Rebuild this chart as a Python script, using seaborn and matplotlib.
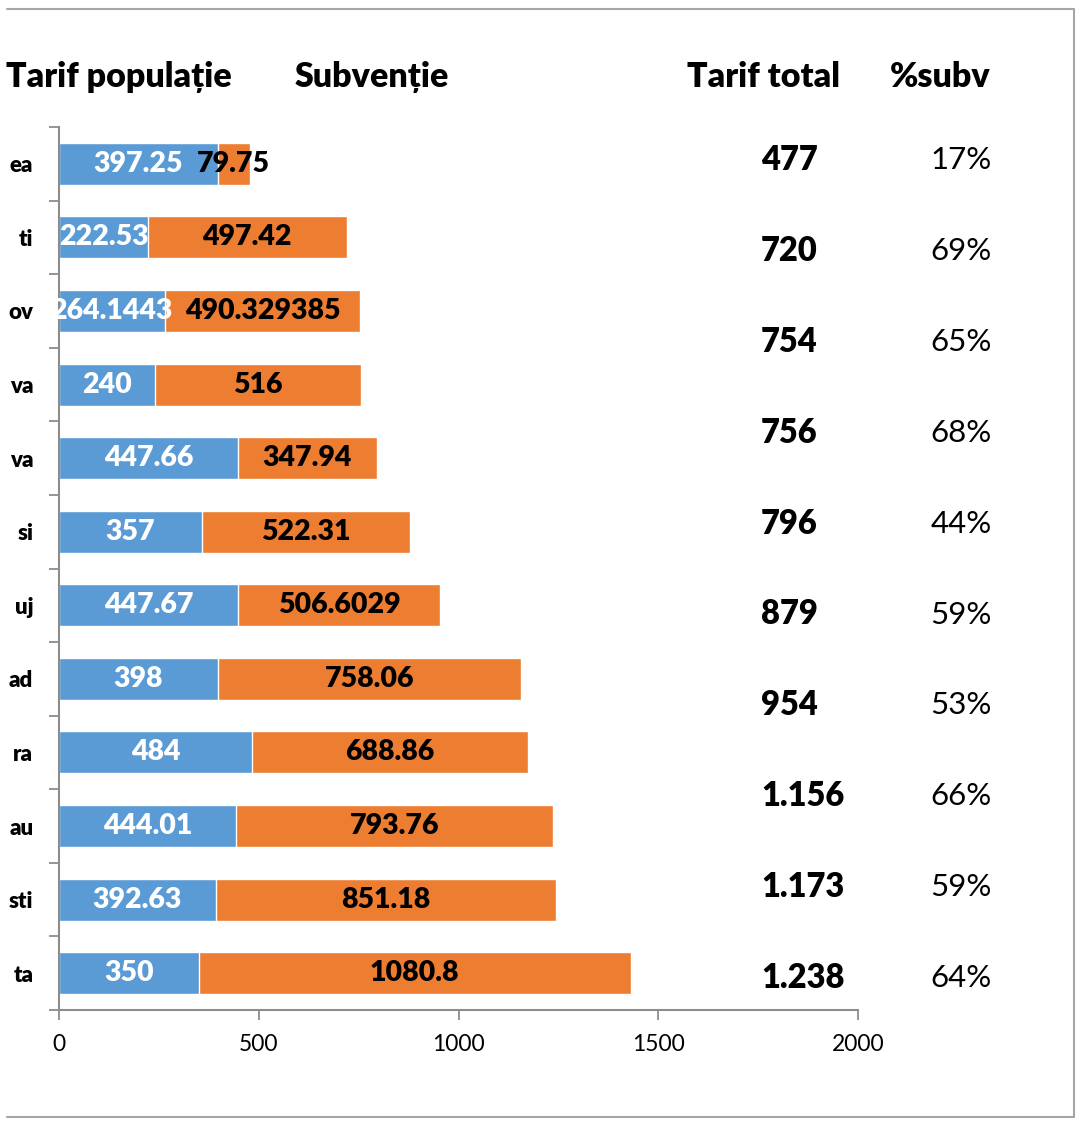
import numpy as np
import pandas as pd
import matplotlib
matplotlib.use("Agg")
from matplotlib import pyplot as plt
from matplotlib.lines import Line2D
import seaborn as sns

# data (top to bottom)
cities = ["ea", "ti", "ov", "va", "va ", "si", "uj", "ad", "ra", "au", "sti", "ta"]
tarif_populatie = [397.25, 222.53, 264.1443, 240, 447.66, 357, 447.67, 398, 484, 444.01, 392.63, 350]
subventie = [79.75, 497.42, 490.329385, 516, 347.94, 522.31, 506.6029, 758.06, 688.86, 793.76, 851.18, 1080.8]
pop_labels = ["397.25", "222.53", "264.1443", "240", "447.66", "357", "447.67", "398", "484", "444.01", "392.63", "350"]
subv_labels = ["79.75", "497.42", "490.329385", "516", "347.94", "522.31", "506.6029", "758.06", "688.86", "793.76", "851.18", "1080.8"]
tarif_total = ["477", "720", "754", "756", "796", "879", "954", "1.156", "1.173", "1.238"]
pct_subv = ["17%", "69%", "65%", "68%", "44%", "59%", "53%", "66%", "59%", "64%"]
headers = ["Tarif populație", "Subvenție", "Tarif total", "%subv"]

BLUE = "#5B9BD5"
ORANGE = "#ED7D31"
GREY = "#8c8c8c"

sns.set_theme(style="white")
plt.rcParams["font.family"] = ["Lato", "DejaVu Sans"]
plt.rcParams["text.color"] = "black"
plt.rcParams["xtick.labelcolor"] = "black"
plt.rcParams["ytick.labelcolor"] = "black"

df = pd.DataFrame({"oras": cities, "pop": tarif_populatie, "subv": subventie})
df["total"] = df["pop"] + df["subv"]

W, H = 1078, 1121
fig = plt.figure(figsize=(W / 100, H / 100), dpi=100)
ax = fig.add_axes([59 / W, 1 - 1010 / H, (858 - 59) / W, (1010 - 127) / H])

# stacked: full bar orange, population part blue on top
sns.barplot(data=df, x="total", y="oras", orient="h", color=ORANGE, width=0.57,
            saturation=1, ax=ax)
sns.barplot(data=df, x="pop", y="oras", orient="h", color=BLUE, width=0.57,
            saturation=1, ax=ax)

for bar, lab in zip(ax.containers[1], pop_labels):
    ax.text(bar.get_x() + bar.get_width() / 2, bar.get_y() + bar.get_height() / 2, lab,
            ha="center", va="center", color="white", fontsize=20.5, fontweight="heavy")
for bar, p, lab in zip(ax.containers[0], tarif_populatie, subv_labels):
    ax.text((p + bar.get_width()) / 2, bar.get_y() + bar.get_height() / 2, lab,
            ha="center", va="center", color="black", fontsize=20.5, fontweight="heavy")

ax.set_xlim(0, 2000)
ax.set_ylim(len(cities) - 0.5, -0.5)
ax.set_xticks([0, 500, 1000, 1500, 2000])
ax.set_xlabel("")
ax.set_ylabel("")
ax.set_yticks(range(len(cities)))
ax.set_yticklabels([c.strip() for c in cities], fontsize=16, fontweight="heavy")
ax.set_yticks(np.arange(-0.5, len(cities), 1), minor=True)
ax.tick_params(axis="y", which="major", length=0, pad=18.5)
ax.tick_params(axis="y", which="minor", length=7, color=GREY, width=1.3, direction="out", left=True)
ax.tick_params(axis="x", length=7, color=GREY, width=1.3, direction="out", bottom=True,
               labelsize=16.5, pad=10)
for s in ["top", "right"]:
    ax.spines[s].set_visible(False)
for s in ["left", "bottom"]:
    ax.spines[s].set_color(GREY)
    ax.spines[s].set_linewidth(1.5)

# header row
for txt, x in zip(headers, [6, 295, 687, 890]):
    fig.text(x / W, 1 - 77 / H, txt, ha="left", va="center", fontsize=24.5, fontweight="heavy")

# right-hand columns
for i, (t, p) in enumerate(zip(tarif_total, pct_subv)):
    y = 1 - (160 + i * 90.9) / H
    fig.text(761 / W, y, t, ha="left", va="center", fontsize=23.5, fontweight="heavy")
    fig.text(961 / W, y, p, ha="center", va="center", fontsize=22.5)

# frame of the original chart area
for xs, ys in [([7, 1074], [9, 9]), ([1074, 1074], [9, 1117]), ([7, 1074], [1117, 1117])]:
    fig.add_artist(Line2D([x / W for x in xs], [1 - y / H for y in ys], color="#a6a6a6", lw=1.5))

fig.savefig("out.png", dpi=100)
